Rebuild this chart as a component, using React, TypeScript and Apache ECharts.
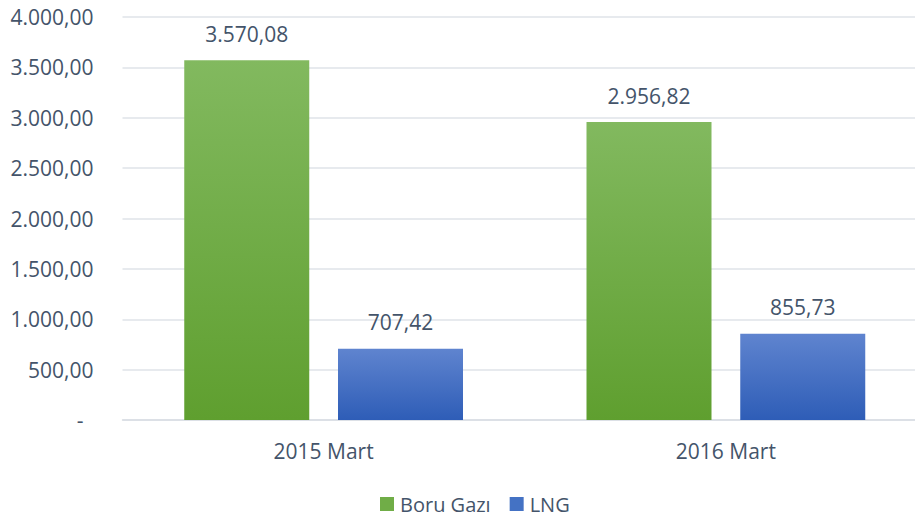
import React, { useEffect, useRef } from "react";
import * as echarts from "echarts";

const categories = ["2015 Mart", "2016 Mart"];
const boruGazi = [3570.08, 2956.82];
const lng = [707.42, 855.73];
const seriesNames = ["Boru Gazı", "LNG"];

const FONT = "'Open Sans', sans-serif";
const TEXT = "#44546A";

function fmt(v: number): string {
  if (v === 0) return "-";
  const [i, d] = v.toFixed(2).split(".");
  return i.replace(/\B(?=(\d{3})+(?!\d))/g, ".") + "," + d;
}

export default function App() {
  const ref = useRef<HTMLDivElement>(null);
  useEffect(() => {
    document.body.style.margin = "0";
    const chart = echarts.init(ref.current!, undefined, { renderer: "svg" });
    const green = new echarts.graphic.LinearGradient(0, 0, 0, 1, [
      { offset: 0, color: "#82b95f" },
      { offset: 1, color: "#5f9f2f" },
    ]);
    const blue = new echarts.graphic.LinearGradient(0, 0, 0, 1, [
      { offset: 0, color: "#5f84cf" },
      { offset: 1, color: "#2e5db7" },
    ]);
    const label = {
      show: true,
      position: "top" as const,
      distance: 16,
      color: TEXT,
      fontFamily: FONT,
      fontSize: 21,
      formatter: (p: any) => fmt(p.value),
    };
    chart.setOption({
      animation: false,
      grid: { left: 122.5, right: 0, top: 17, bottom: 99, containLabel: false },
      legend: {
        bottom: 0,
        left: 375,
        itemWidth: 14,
        itemHeight: 14,
        itemGap: 19,
        icon: "rect",
        textStyle: { color: TEXT, fontFamily: FONT, fontSize: 20, padding: [0, 0, 0, 1] },
        data: [
          { name: seriesNames[0], itemStyle: { color: "#70ad47" } },
          { name: seriesNames[1], itemStyle: { color: "#4472c4" } },
        ],
      },
      xAxis: {
        type: "category",
        data: categories,
        axisTick: { show: false },
        axisLine: { show: true, lineStyle: { color: "#d9dde3", width: 1.5 } },
        axisLabel: { color: TEXT, fontFamily: FONT, fontSize: 21, margin: 20 },
      },
      yAxis: {
        type: "value",
        min: 0,
        max: 4000,
        interval: 500,
        axisLine: { show: false },
        axisTick: { show: false },
        splitLine: { lineStyle: { color: "#dfe3e8", width: 1.5 } },
        axisLabel: {
          color: TEXT,
          fontFamily: FONT,
          fontSize: 21,
          margin: 29,
          formatter: (v: number) => (v === 0 ? "{d|-}" : fmt(v)),
          rich: {
            d: { color: TEXT, fontFamily: FONT, fontSize: 21, padding: [0, 10, 0, 0] },
          },
        },
      },
      series: [
        {
          name: seriesNames[0],
          type: "bar",
          data: boruGazi,
          barWidth: 125,
          barGap: "23%",
          itemStyle: { color: green },
          label,
        },
        {
          name: seriesNames[1],
          type: "bar",
          data: lng,
          barWidth: 125,
          barGap: "23%",
          itemStyle: { color: blue },
          label,
        },
      ],
    });
    return () => chart.dispose();
  }, []);
  return (
    <div style={{ width: 915, height: 519, overflow: "hidden" }}>
      <div ref={ref} style={{ width: 927, height: 519 }} />
    </div>
  );
}
